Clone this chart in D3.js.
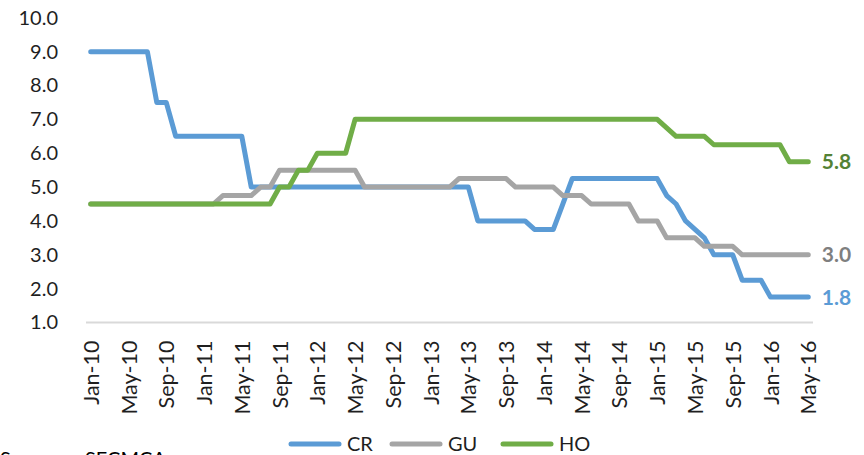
<!DOCTYPE html>
<html>
<head>
<meta charset="utf-8">
<script src="https://cdn.jsdelivr.net/npm/d3@7"></script>
<style>
  body { margin: 0; background: #fff; }
  svg { display: block; font-family: Lato, "Open Sans", sans-serif; }
</style>
</head>
<body>
<svg id="chart" width="864" height="455"></svg>
<script>
// monthly categories, Jan-10 .. May-16
var categories = [
  "Jan-10","Feb-10","Mar-10","Apr-10","May-10","Jun-10","Jul-10","Aug-10","Sep-10","Oct-10","Nov-10","Dec-10",
  "Jan-11","Feb-11","Mar-11","Apr-11","May-11","Jun-11","Jul-11","Aug-11","Sep-11","Oct-11","Nov-11","Dec-11",
  "Jan-12","Feb-12","Mar-12","Apr-12","May-12","Jun-12","Jul-12","Aug-12","Sep-12","Oct-12","Nov-12","Dec-12",
  "Jan-13","Feb-13","Mar-13","Apr-13","May-13","Jun-13","Jul-13","Aug-13","Sep-13","Oct-13","Nov-13","Dec-13",
  "Jan-14","Feb-14","Mar-14","Apr-14","May-14","Jun-14","Jul-14","Aug-14","Sep-14","Oct-14","Nov-14","Dec-14",
  "Jan-15","Feb-15","Mar-15","Apr-15","May-15","Jun-15","Jul-15","Aug-15","Sep-15","Oct-15","Nov-15","Dec-15",
  "Jan-16","Feb-16","Mar-16","Apr-16","May-16"
];

var tickLabels = ["Jan-10","May-10","Sep-10","Jan-11","May-11","Sep-11","Jan-12","May-12","Sep-12",
  "Jan-13","May-13","Sep-13","Jan-14","May-14","Sep-14","Jan-15","May-15","Sep-15","Jan-16","May-16"];

var yTicks = [1,2,3,4,5,6,7,8,9,10];

var crValues = [
  9,9,9,9,9,9,9,7.5,7.5,6.5,6.5,6.5,
  6.5,6.5,6.5,6.5,6.5,5,5,5,5,5,5,5,
  5,5,5,5,5,5,5,5,5,5,5,5,
  5,5,5,5,5,4,4,4,4,4,4,3.75,
  3.75,3.75,4.5,5.25,5.25,5.25,5.25,5.25,5.25,5.25,5.25,5.25,
  5.25,4.75,4.5,4,3.75,3.5,3,3,3,2.25,2.25,2.25,
  1.75,1.75,1.75,1.75,1.75
];
var guValues = [
  4.5,4.5,4.5,4.5,4.5,4.5,4.5,4.5,4.5,4.5,4.5,4.5,
  4.5,4.5,4.75,4.75,4.75,4.75,5,5,5.5,5.5,5.5,5.5,
  5.5,5.5,5.5,5.5,5.5,5,5,5,5,5,5,5,
  5,5,5,5.25,5.25,5.25,5.25,5.25,5.25,5,5,5,
  5,5,4.75,4.75,4.75,4.5,4.5,4.5,4.5,4.5,4,4,
  4,3.5,3.5,3.5,3.5,3.25,3.25,3.25,3.25,3,3,3,
  3,3,3,3,3
];
var hoValues = [
  4.5,4.5,4.5,4.5,4.5,4.5,4.5,4.5,4.5,4.5,4.5,4.5,
  4.5,4.5,4.5,4.5,4.5,4.5,4.5,4.5,5,5,5.5,5.5,
  6,6,6,6,7,7,7,7,7,7,7,7,
  7,7,7,7,7,7,7,7,7,7,7,7,
  7,7,7,7,7,7,7,7,7,7,7,7,
  7,6.75,6.5,6.5,6.5,6.5,6.25,6.25,6.25,6.25,6.25,6.25,
  6.25,6.25,5.75,5.75,5.75
];

var seriesNames = ["CR", "GU", "HO"];
var seriesColors = ["#5b9bd5", "#a5a5a5", "#70ad47"];
var labelColors = ["#5b9bd5", "#7f7f7f", "#548235"];

var svg = d3.select("#chart"),
    width = +svg.attr("width"),
    height = +svg.attr("height");

var series = [crValues, guValues, hoValues];

// scales: categories sit between tick marks like the Excel original
var x = d3.scalePoint()
    .domain(categories)
    .range([86, 813])
    .padding(0.5);

var y = d3.scaleLinear()
    .domain([1, 10])
    .range([322.5, 17.8]);

// y axis labels, no line
var yAxis = svg.append("g")
    .attr("transform", "translate(58,0)")
    .call(d3.axisLeft(y).tickValues(yTicks).tickFormat(d3.format(".1f")).tickSize(0).tickPadding(0));
yAxis.select(".domain").remove();
yAxis.selectAll("text")
    .attr("font-family", "Lato, sans-serif")
    .attr("font-size", 20)
    .attr("fill", "#1f1f1f");

// category axis line
svg.append("line")
    .attr("x1", 86).attr("x2", 813)
    .attr("y1", y(1)).attr("y2", y(1))
    .attr("stroke", "#d9d9d9")
    .attr("stroke-width", 2);

var xAxis = svg.append("g")
    .attr("transform", "translate(0," + y(1) + ")")
    .call(d3.axisBottom(x).tickValues(tickLabels).tickSize(0));
xAxis.select(".domain").remove();
xAxis.selectAll("text")
    .attr("font-family", "Lato, sans-serif")
    .attr("font-size", 21.5)
    .attr("fill", "#1f1f1f")
    .attr("x", 0)
    .attr("y", 0)
    .attr("dy", "0.35em")
    .attr("text-anchor", "end")
    .attr("transform", "translate(0,18) rotate(-90)");

// lines
var line = d3.line()
    .x(function (d, i) { return x(categories[i]); })
    .y(function (d) { return y(d); });

svg.append("g")
    .selectAll("path")
    .data(series)
    .enter()
    .append("path")
    .attr("d", line)
    .attr("fill", "none")
    .attr("stroke", function (d, i) { return seriesColors[i]; })
    .attr("stroke-width", 5)
    .attr("stroke-linejoin", "round")
    .attr("stroke-linecap", "round");

// end value labels
var last = categories[categories.length - 1];
svg.append("g")
    .selectAll("text")
    .data(series)
    .enter()
    .append("text")
    .attr("x", x(last) + 13.5)
    .attr("y", function (d) { return y(d[d.length - 1]); })
    .attr("dy", "0.36em")
    .attr("font-size", 21)
    .attr("font-weight", "bold")
    .attr("fill", function (d, i) { return labelColors[i]; })
    .text(function (d) { return d3.format(".1f")(d[d.length - 1]); });

// legend
var legendX = [291, 392, 503];
var legend = svg.append("g")
    .selectAll("g")
    .data(seriesNames)
    .enter()
    .append("g")
    .attr("transform", function (d, i) { return "translate(" + legendX[i] + ",444)"; });

legend.append("line")
    .attr("x1", 0).attr("x2", 48)
    .attr("stroke", function (d, i) { return seriesColors[i]; })
    .attr("stroke-width", 5)
    .attr("stroke-linecap", "round");

legend.append("text")
    .attr("x", 56)
    .attr("dy", "0.36em")
    .attr("font-size", 20)
    .attr("fill", "#1f1f1f")
    .text(function (d) { return d; });

// source note, cut off at the bottom edge like the original
svg.append("text")
    .attr("x", 0)
    .attr("y", 466)
    .attr("font-size", 20)
    .attr("fill", "#000")
    .text("Source:");
svg.append("text")
    .attr("x", 85)
    .attr("y", 466)
    .attr("font-size", 20)
    .attr("fill", "#000")
    .text("SECMCA");
</script>
</body>
</html>
